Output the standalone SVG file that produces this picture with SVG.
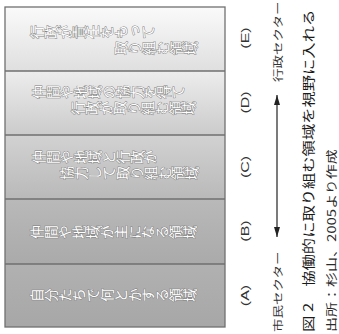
<svg xmlns="http://www.w3.org/2000/svg" width="339" height="334" viewBox="0 0 339 334">
<style>
.div{stroke:#707070;stroke-width:1.3;fill:none}
.bt{font-family:"Noto Sans CJK JP","Noto Sans",sans-serif;font-size:13.9px;writing-mode:vertical-rl;fill:#ffffff;stroke:#7c7c7c;stroke-width:0.9;paint-order:stroke;dominant-baseline:central}
.lbl{font-family:"Liberation Sans",sans-serif;font-size:16px;fill:#333;text-anchor:middle;dominant-baseline:central}
.sec{font-family:"Noto Sans CJK JP",sans-serif;font-size:13.5px;fill:#333;dominant-baseline:central}
.cap{font-family:"Noto Sans CJK JP",sans-serif;font-size:16.3px;fill:#1a1a1a;dominant-baseline:central}
.src{font-family:"Noto Sans CJK JP",sans-serif;font-size:15px;fill:#2a2a2a;dominant-baseline:central}
.conn{stroke:#222;stroke-width:1.2;fill:none}
</style>
<defs>
<linearGradient id="gA" x1="0" y1="0" x2="1" y2="0"><stop offset="0" stop-color="#a7a7a7"/><stop offset="1" stop-color="#b1b1b1"/></linearGradient>
<linearGradient id="gB" x1="0" y1="0" x2="1" y2="0"><stop offset="0" stop-color="#aaaaaa"/><stop offset="1" stop-color="#b9b9b9"/></linearGradient>
<linearGradient id="gC" x1="0" y1="0" x2="1" y2="0"><stop offset="0" stop-color="#b9b9b9"/><stop offset="1" stop-color="#d2d2d2"/></linearGradient>
<linearGradient id="gD" x1="0" y1="0" x2="1" y2="0"><stop offset="0" stop-color="#cbcbcb"/><stop offset="1" stop-color="#ededed"/></linearGradient>
<linearGradient id="gE" x1="0" y1="0" x2="1" y2="0"><stop offset="0" stop-color="#dfdfdf"/><stop offset="1" stop-color="#fafafa"/></linearGradient>
<marker id="ah" markerUnits="userSpaceOnUse" markerWidth="10" markerHeight="6" refX="10" refY="3" orient="auto-start-reverse"><path d="M0,0 L10,3 L0,6 z" fill="#222"/></marker>
</defs>
<rect width="339" height="334" fill="#ffffff"/>
<g transform="matrix(0 -1 1 0 0 334)">
  <g id="band-A"><rect x="7" y="5" width="63" height="220" fill="url(#gA)"/><text class="bt" x="39" y="30">自分たちで何とかする領域</text></g>
  <g id="band-B"><rect x="70" y="5" width="65" height="220" fill="url(#gB)"/><text class="bt" x="102" y="30">仲間や地域が主になる領域</text></g>
  <g id="band-C"><rect x="135" y="5" width="64" height="220" fill="url(#gC)"/><text class="bt" x="177" y="32">仲間や地域と行政が</text><text class="bt" x="161" y="60">協力して取り組む領域</text></g>
  <g id="band-D"><rect x="199" y="5" width="64" height="220" fill="url(#gD)"/><text class="bt" x="242" y="32">仲間や地域の協力を得て</text><text class="bt" x="226" y="71">行政が取り組む領域</text></g>
  <g id="band-E"><rect x="263" y="5" width="64" height="220" fill="url(#gE)"/><text class="bt" x="302" y="30">行政が責任をもって</text><text class="bt" x="286" y="114">取り組む領域</text></g>
  <g id="frame">
    <rect class="div" x="7" y="5" width="320" height="220"/>
    <path class="div" d="M70,5V225M135,5V225M199,5V225M263,5V225"/>
  </g>
  <g id="labels">
    <text class="lbl" transform="translate(38.5,245) scale(1,0.72)">(A)</text>
    <text class="lbl" transform="translate(103,245) scale(1,0.72)">(B)</text>
    <text class="lbl" transform="translate(167,245) scale(1,0.72)">(C)</text>
    <text class="lbl" transform="translate(231.5,245) scale(1,0.72)">(D)</text>
    <text class="lbl" transform="translate(296,245) scale(1,0.72)">(E)</text>
  </g>
  <g id="connectors">
    <line class="conn" x1="97" y1="277" x2="239" y2="277" marker-start="url(#ah)" marker-end="url(#ah)"/>
  </g>
  <g id="sector-citizen"><text class="sec" transform="translate(2,277) scale(1,0.75)">市民セクター</text></g>
  <g id="sector-gov"><text class="sec" transform="translate(252,277) scale(1,0.75)">行政セクター</text></g>
  <g id="caption"><text class="cap" transform="translate(2,307) scale(1,0.78)">図 2　協働的に取り組む領域を視野に入れる</text></g>
  <g id="source"><text class="src" transform="translate(2,331) scale(1,0.78)">出所：杉山、2005より作成</text></g>
</g>
</svg>
